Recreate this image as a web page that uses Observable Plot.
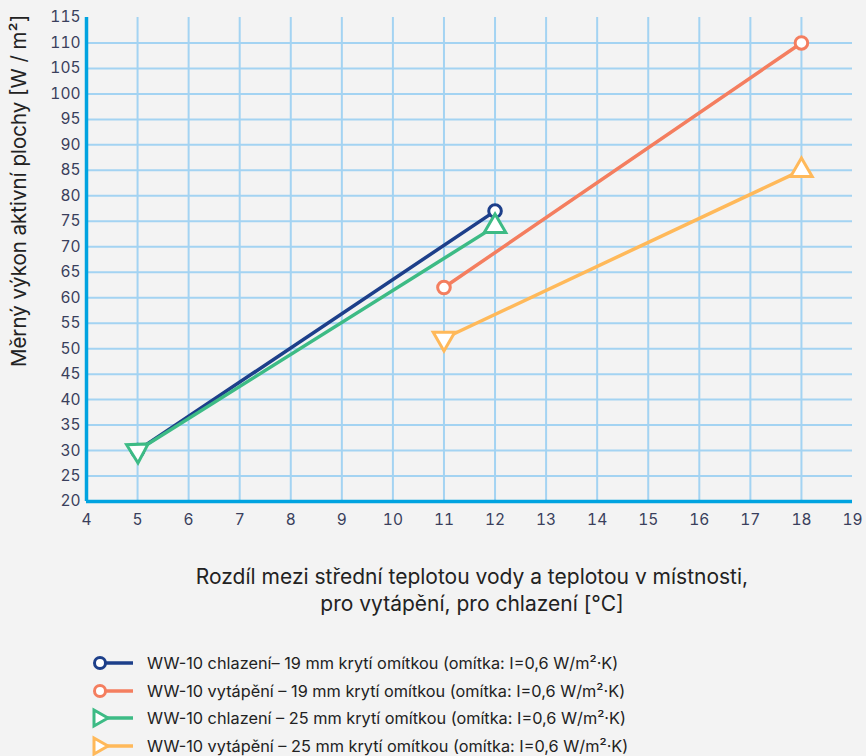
<!DOCTYPE html>
<html>
<head>
<meta charset="utf-8">
<script src="https://cdn.jsdelivr.net/npm/d3@7"></script>
<script src="https://cdn.jsdelivr.net/npm/@observablehq/plot@0.6"></script>
<style>
  html, body { margin: 0; padding: 0; background: #f3f3f3; }
  #wrap { position: relative; width: 866px; height: 756px; background: #f3f3f3; font-family: Inter, "Noto Sans", sans-serif; overflow: hidden; }
  #ylabel { position: absolute; left: 18px; top: 191px; transform: translate(-50%, -50%) rotate(-90deg); white-space: nowrap; font-size: 20.5px; color: #222; }
  #xlabel { position: absolute; left: 0; width: 944px; top: 563px; text-align: center; font-size: 21px; line-height: 27px; color: #222; }
  #legend { position: absolute; left: 88px; top: 649px; }
  .row { display: flex; align-items: center; height: 27.7px; font-size: 16.3px; color: #222; }
  .row svg { margin-right: 12px; }
</style>
</head>
<body>
<div id="wrap">
  <div id="chart"></div>
  <div id="ylabel">Měrný výkon aktivní plochy [W / m²]</div>
  <div id="xlabel">Rozdíl mezi střední teplotou vody a teplotou v místnosti,<br>pro vytápění, pro chlazení [°C]</div>
  <div id="legend"></div>
</div>
<script>
const seriesNames = [
  "WW-10 chlazení– 19 mm krytí omítkou (omítka: I=0,6 W/m²·K)",
  "WW-10 vytápění – 19 mm krytí omítkou (omítka: I=0,6 W/m²·K)",
  "WW-10 chlazení – 25 mm krytí omítkou (omítka: I=0,6 W/m²·K)",
  "WW-10 vytápění – 25 mm krytí omítkou (omítka: I=0,6 W/m²·K)"
];
const seriesColors = ["#1d3f8a", "#f47e5f", "#3dbb85", "#ffb95a"];
const seriesSymbols = ["circle", "circle", "triangle", "triangle"];
const xValues = [[5, 12], [11, 18], [5, 12], [11, 18]];
const yValues = [[30, 77], [62, 110], [30, 74], [52, 85]];
const startRotate = [0, 0, 178, 180];
const endRotate = [0, 0, 0, 0];
const xTicks = [4, 5, 6, 7, 8, 9, 10, 11, 12, 13, 14, 15, 16, 17, 18, 19];
const yTicks = [20, 25, 30, 35, 40, 45, 50, 55, 60, 65, 70, 75, 80, 85, 90, 95, 100, 105, 110, 115];
const xGridValues = [5, 6, 7, 8, 9, 10, 11, 12, 13, 14, 15, 16, 17, 18];
const yGridValues = [25, 30, 35, 40, 45, 50, 55, 60, 65, 70, 75, 80, 85, 90, 95, 100, 105, 110];

const data = [];
seriesNames.forEach((s, i) => {
  xValues[i].forEach((x, j) => {
    data.push({series: s, x, y: yValues[i][j], color: seriesColors[i], symbol: seriesSymbols[i], rotate: j === 0 ? startRotate[i] : endRotate[i], idx: i});
  });
});
const circles = data.filter(d => d.symbol === "circle");
const tris = data.filter(d => d.symbol === "triangle");

const chart = Plot.plot({
  width: 866,
  height: 530,
  marginLeft: 86,
  marginRight: 14,
  marginTop: 17,
  marginBottom: 29,
  style: {background: "#f3f3f3", fontFamily: "Inter, 'Noto Sans', sans-serif", fontSize: "15px", color: "#3a3f5c"},
  x: {domain: [4, 19], label: null},
  y: {domain: [20, 115], label: null},
  marks: [
    Plot.gridX(xGridValues, {stroke: "#a3d3f2", strokeOpacity: 1, strokeWidth: 2}),
    Plot.gridY(yGridValues, {stroke: "#a3d3f2", strokeOpacity: 1, strokeWidth: 2}),
    Plot.ruleX([4], {stroke: "#00a3e0", strokeWidth: 3.5}),
    Plot.ruleY([20], {stroke: "#00a3e0", strokeWidth: 3.5}),
    Plot.axisX(xTicks, {tickSize: 0, tickPadding: 12, fill: "#3a3f5c", fontSize: 15.5}),
    Plot.axisY(yTicks, {tickSize: 0, tickPadding: 6, fill: "#3a3f5c", fontSize: 15.5}),
    Plot.line(data, {x: "x", y: "y", z: "series", stroke: "color", strokeWidth: 3.5}),
    Plot.dot(circles, {x: "x", y: "y", r: 6.3, stroke: "color", fill: "white", strokeWidth: 3, symbol: "circle"}),
    Plot.dot(tris, {x: "x", y: "y", r: 8, stroke: "color", fill: "white", strokeWidth: 3, symbol: "triangle", rotate: "rotate"})
  ]
});
document.getElementById("chart").appendChild(chart);

const legend = document.getElementById("legend");
seriesNames.forEach((s, i) => {
  const row = document.createElement("div");
  row.className = "row";
  const c = seriesColors[i];
  let marker;
  if (seriesSymbols[i] === "circle") {
    marker = `<circle cx="12" cy="12" r="5.5" fill="white" stroke="${c}" stroke-width="3"/>`;
  } else {
    marker = `<path d="M6,4 L20,12 L6,20 Z" fill="white" stroke="${c}" stroke-width="3" stroke-linejoin="miter"/>`;
  }
  row.innerHTML = `<svg width="47" height="24"><line x1="14" y1="12" x2="45" y2="12" stroke="${c}" stroke-width="3.5"/>${marker}</svg><span>${s}</span>`;
  legend.appendChild(row);
});
</script>
</body>
</html>
